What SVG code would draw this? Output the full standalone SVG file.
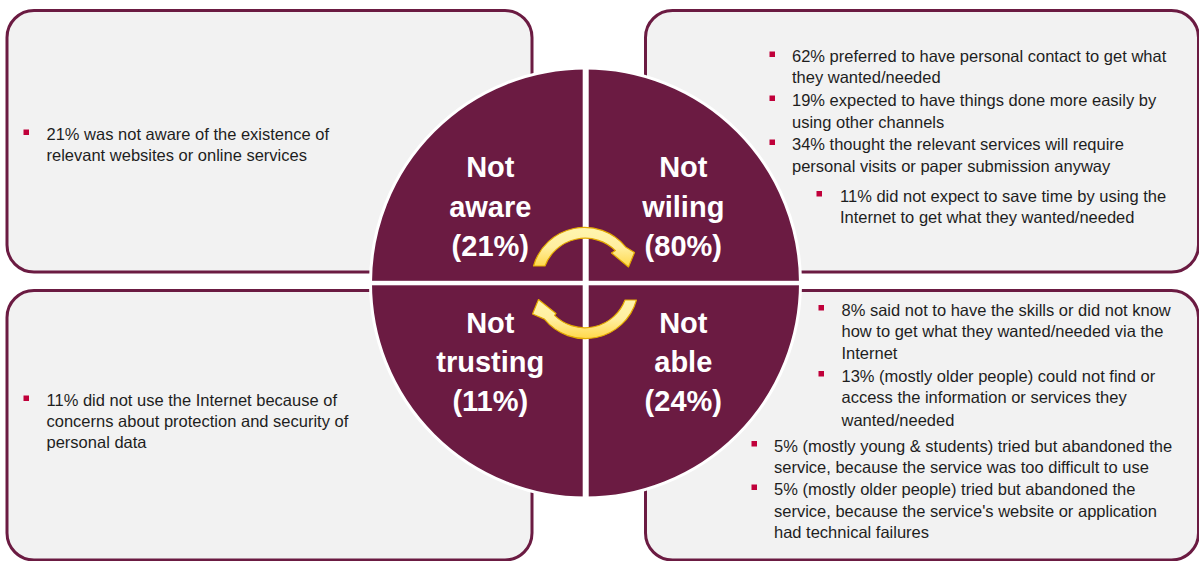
<svg xmlns="http://www.w3.org/2000/svg" width="1199" height="561" viewBox="0 0 1199 561">
  <defs>
    <style>
      .box { fill: #f2f2f2; stroke: #6b1b42; stroke-width: 3; }
      .txt { font-family: "Liberation Sans", Arial, sans-serif; font-size: 16.5px; fill: #1e1e1e; }
      .lbl { font-family: "Liberation Sans", Arial, sans-serif; font-size: 29px; font-weight: bold; fill: #ffffff; text-anchor: middle; }
      .bul { fill: #c0003a; }
      .arrow { fill: url(#ylw); stroke: #e3a900; stroke-width: 1.2; stroke-linejoin: round; }
    </style>
    <linearGradient id="ylw" x1="0" y1="0" x2="0" y2="1">
      <stop offset="0" stop-color="#fff6b0"/>
      <stop offset="0.5" stop-color="#ffefa0"/>
      <stop offset="1" stop-color="#ffd84a"/>
    </linearGradient>
  </defs>

  <g id="box-not-aware">
    <rect class="box" x="7" y="10.5" width="525" height="261.5" rx="27" ry="27"/>
    <rect class="bul" x="23.5" y="129.5" width="5.5" height="5.5"/>
    <text class="txt" x="46.5" y="139.5">21% was not aware of the existence of</text>
    <text class="txt" x="46.5" y="160.8">relevant websites or online services</text>
  </g>

  <g id="box-not-willing">
    <rect class="box" x="645.5" y="10.5" width="553" height="261.5" rx="27" ry="27"/>
    <rect class="bul" x="769.5" y="51.5" width="5.5" height="5.5"/>
    <text class="txt" x="792" y="61.7">62% preferred to have personal contact to get what</text>
    <text class="txt" x="792" y="82.7">they wanted/needed</text>
    <rect class="bul" x="769.5" y="95.5" width="5.5" height="5.5"/>
    <text class="txt" x="792" y="106">19% expected to have things done more easily by</text>
    <text class="txt" x="792" y="128.3">using other channels</text>
    <rect class="bul" x="769.5" y="139.5" width="5.5" height="5.5"/>
    <text class="txt" x="792" y="150">34% thought the relevant services will require</text>
    <text class="txt" x="792" y="171.7">personal visits or paper submission anyway</text>
    <rect class="bul" x="816.5" y="191" width="5.5" height="5.5"/>
    <text class="txt" x="840" y="201.7">11% did not expect to save time by using the</text>
    <text class="txt" x="840" y="223.3">Internet to get what they wanted/needed</text>
  </g>

  <g id="box-not-trusting">
    <rect class="box" x="7" y="290.5" width="525" height="269.5" rx="27" ry="27"/>
    <rect class="bul" x="23.5" y="395.5" width="5.5" height="5.5"/>
    <text class="txt" x="46.5" y="405.7">11% did not use the Internet because of</text>
    <text class="txt" x="46.5" y="426.9">concerns about protection and security of</text>
    <text class="txt" x="46.5" y="448.3">personal data</text>
  </g>

  <g id="box-not-able">
    <rect class="box" x="645.5" y="290.5" width="553" height="269.5" rx="27" ry="27"/>
    <rect class="bul" x="818.5" y="305" width="5.5" height="5.5"/>
    <text class="txt" x="841.5" y="315.7">8% said not to have the skills or did not know</text>
    <text class="txt" x="841.5" y="337.3">how to get what they wanted/needed via the</text>
    <text class="txt" x="841.5" y="359.3">Internet</text>
    <rect class="bul" x="818.5" y="371" width="5.5" height="5.5"/>
    <text class="txt" x="841.5" y="381.7">13% (mostly older people) could not find or</text>
    <text class="txt" x="841.5" y="403.3">access the information or services they</text>
    <text class="txt" x="841.5" y="425.7">wanted/needed</text>
    <rect class="bul" x="751.5" y="441" width="5.5" height="5.5"/>
    <text class="txt" x="774" y="451.7">5% (mostly young &amp; students) tried but abandoned the</text>
    <text class="txt" x="774" y="472.7">service, because the service was too difficult to use</text>
    <rect class="bul" x="751.5" y="484.5" width="5.5" height="5.5"/>
    <text class="txt" x="774" y="495">5% (mostly older people) tried but abandoned the</text>
    <text class="txt" x="774" y="517.3">service, because the service's website or application</text>
    <text class="txt" x="774" y="538.3">had technical failures</text>
  </g>

  <g id="circle">
    <circle cx="585.5" cy="283" r="215" fill="#6b1b42" stroke="#ffffff" stroke-width="3"/>
    <rect x="582.7" y="66" width="6" height="434" fill="#ffffff"/>
    <rect x="369" y="280.8" width="433" height="4.5" fill="#ffffff"/>
  </g>

  <g id="q-not-aware">
    <text class="lbl" x="490.3" y="177.3">Not</text>
    <text class="lbl" x="490.3" y="216.7">aware</text>
    <text class="lbl" x="490.3" y="256">(21%)</text>
  </g>
  <g id="q-not-willing">
    <text class="lbl" x="683.3" y="177.3">Not</text>
    <text class="lbl" x="683.3" y="216.7">wiling</text>
    <text class="lbl" x="683.3" y="256">(80%)</text>
  </g>
  <g id="q-not-trusting">
    <text class="lbl" x="490.3" y="333">Not</text>
    <text class="lbl" x="490.3" y="372">trusting</text>
    <text class="lbl" x="490.3" y="411">(11%)</text>
  </g>
  <g id="q-not-able">
    <text class="lbl" x="683.3" y="333">Not</text>
    <text class="lbl" x="683.3" y="372">able</text>
    <text class="lbl" x="683.3" y="411">(24%)</text>
  </g>

  <g id="connectors">
    <path class="arrow" d="M533.5,266 A53,53 0 0 1 625.6,246.9 L634.5,252.5 L628.5,267 L611.5,253 L615.4,250.6 A43,43 0 0 0 545,266 Z"/>
    <path class="arrow" d="M636.5,300 A53,53 0 0 1 544.4,319.1 L532.5,314 L538.5,299.5 L556,313.5 L554.6,315.4 A43,43 0 0 0 625,300 Z"/>
  </g>
</svg>
